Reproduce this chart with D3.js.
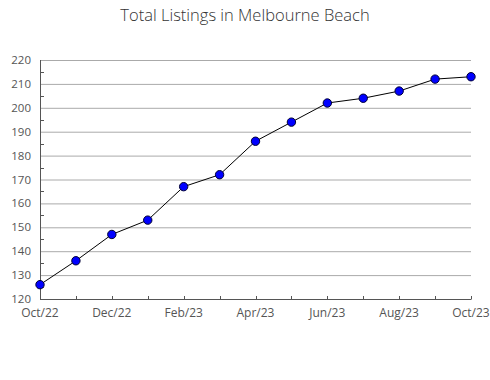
<!DOCTYPE html>
<html><head><meta charset="utf-8">
<script src="https://cdn.jsdelivr.net/npm/d3@7"></script>
<style>body{margin:0;background:#fff;}svg{display:block;}</style>
</head><body>
<svg id="c" width="490" height="380"></svg>
<script>
const months = ["Oct/22","Nov/22","Dec/22","Jan/23","Feb/23","Mar/23","Apr/23","May/23","Jun/23","Jul/23","Aug/23","Sep/23","Oct/23"];
const listings = [126,136,147,153,167,172,186,194,202,204,207,212,213];
const yTicks = [120,130,140,150,160,170,180,190,200,210,220];
const xLabels = ["Oct/22","Dec/22","Feb/23","Apr/23","Jun/23","Aug/23","Oct/23"];

const svg = d3.select("#c");
const L = 40, R = 471, T = 60, B = 299;
const x = d3.scalePoint().domain(months).range([L, R]);
const y = d3.scaleLinear().domain([120, 220]).range([B, T]);
const font = "'Open Sans', sans-serif";

svg.append("text").attr("x", 245).attr("y", 21).attr("text-anchor", "middle")
  .attr("font-family", font).attr("font-size", 16.5).attr("font-weight", 300).attr("fill", "#333")
  .text("Total Listings in Melbourne Beach");

// gridlines
svg.append("g").selectAll("line").data(yTicks.slice(1)).join("line")
  .attr("x1", L).attr("x2", R).attr("y1", d => y(d) + 0.5).attr("y2", d => y(d) + 0.5)
  .attr("stroke", "#aaa").attr("stroke-width", 1);

// minor y ticks
const minor = d3.range(125, 220, 10);
svg.append("g").selectAll("line").data(minor).join("line")
  .attr("x1", L).attr("x2", L + 4).attr("y1", d => Math.round(y(d)) + 0.5).attr("y2", d => Math.round(y(d)) + 0.5)
  .attr("stroke", "#555");

// y axis line
svg.append("line").attr("x1", L + 0.5).attr("x2", L + 0.5).attr("y1", T).attr("y2", B)
  .attr("stroke", "#555");
// x axis line
svg.append("line").attr("x1", L).attr("x2", R + 0.5).attr("y1", B + 0.5).attr("y2", B + 0.5)
  .attr("stroke", "#555");
// x ticks
svg.append("g").selectAll("line").data(months).join("line")
  .attr("x1", d => Math.round(x(d)) + 0.5).attr("x2", d => Math.round(x(d)) + 0.5)
  .attr("y1", B - 3).attr("y2", B)
  .attr("stroke", "#555");

// y labels
svg.append("g").selectAll("text").data(yTicks).join("text")
  .attr("x", L - 9).attr("y", d => y(d) + 4).attr("text-anchor", "end")
  .attr("font-family", font).attr("font-size", 11.5).attr("fill", "#555")
  .text(d => d);

// x labels
svg.append("g").selectAll("text").data(xLabels).join("text")
  .attr("x", d => x(d)).attr("y", B + 18).attr("text-anchor", "middle")
  .attr("font-family", font).attr("font-size", 12).attr("fill", "#555")
  .text(d => d);

// line
const line = d3.line().x((d, i) => x(months[i])).y(d => y(d));
svg.append("path").datum(listings).attr("d", line)
  .attr("fill", "none").attr("stroke", "#000").attr("stroke-width", 1);

svg.append("g").selectAll("circle").data(listings).join("circle")
  .attr("cx", (d, i) => x(months[i])).attr("cy", d => y(d)).attr("r", 4.2)
  .attr("fill", "#0000ff").attr("stroke", "#000033").attr("stroke-width", 1);
</script>
</body></html>
